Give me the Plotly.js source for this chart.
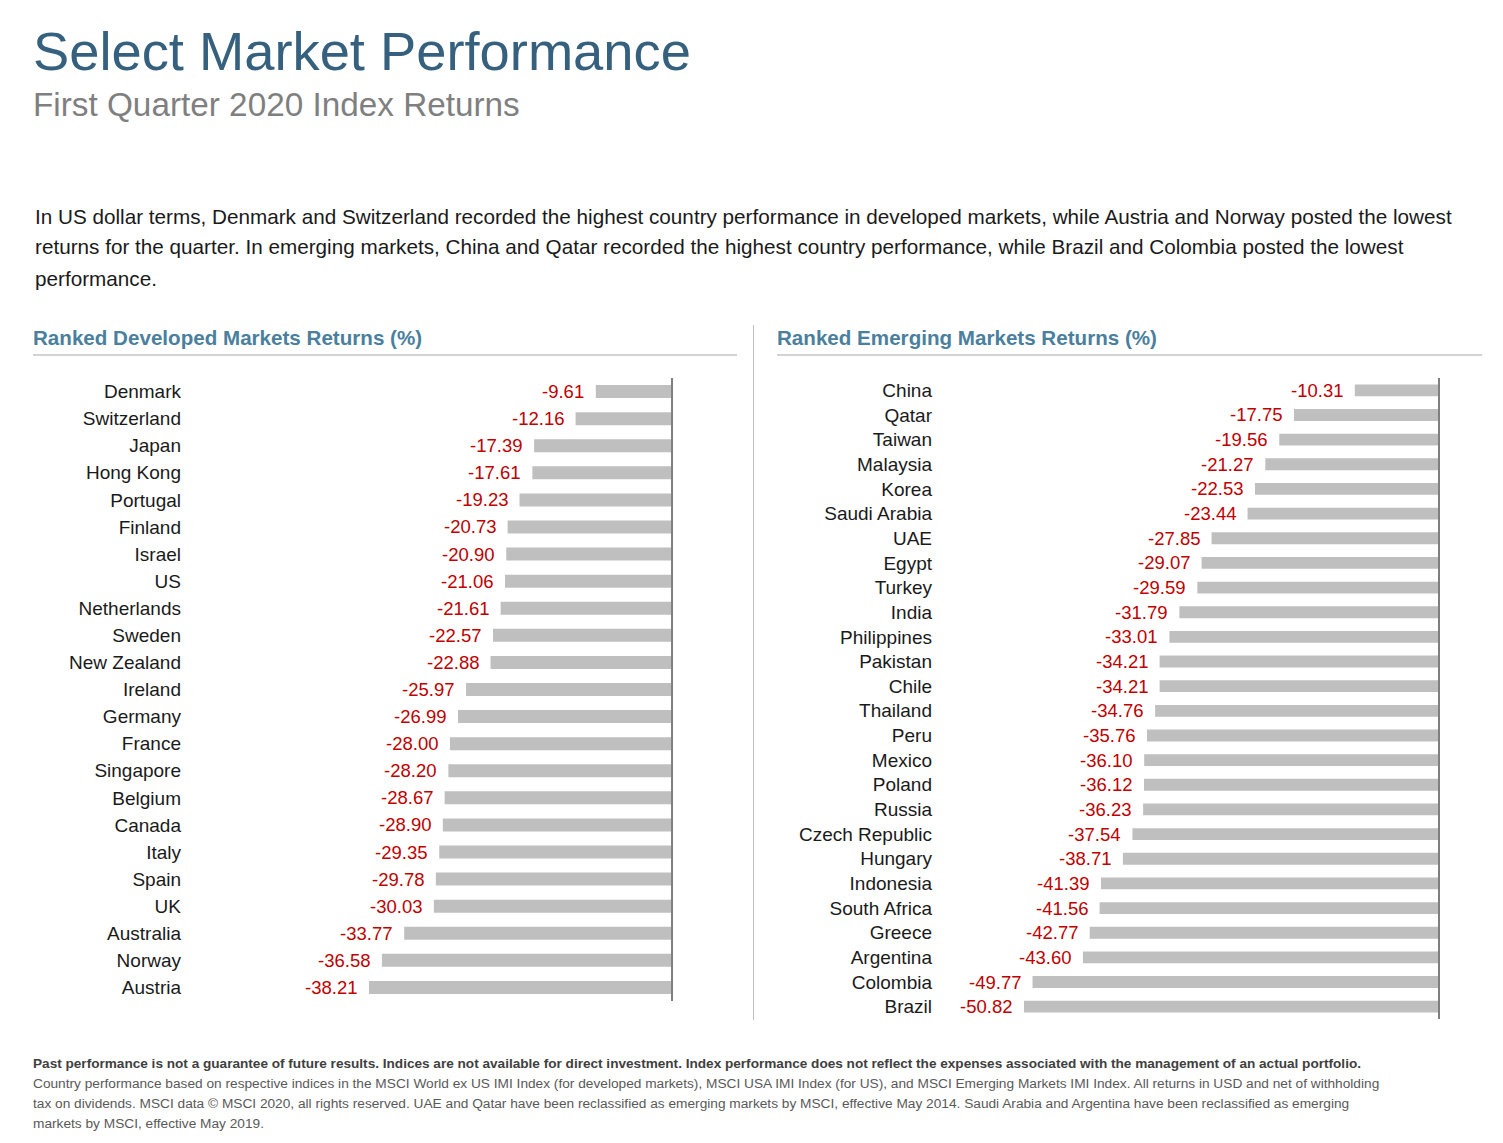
<!DOCTYPE html>
<html>
<head>
<meta charset="utf-8">
<script src="https://cdn.plot.ly/plotly-3.0.1.min.js"></script>
<style>html,body{margin:0;padding:0;background:#fff;}#chart{width:1503px;height:1143px;}</style>
</head>
<body>
<div id="chart"></div>
<script>
const devCountries = ["Denmark","Switzerland","Japan","Hong Kong","Portugal","Finland","Israel","US","Netherlands","Sweden","New Zealand","Ireland","Germany","France","Singapore","Belgium","Canada","Italy","Spain","UK","Australia","Norway","Austria"];
const devReturns = [-9.61,-12.16,-17.39,-17.61,-19.23,-20.73,-20.90,-21.06,-21.61,-22.57,-22.88,-25.97,-26.99,-28.00,-28.20,-28.67,-28.90,-29.35,-29.78,-30.03,-33.77,-36.58,-38.21];
const emCountries = ["China","Qatar","Taiwan","Malaysia","Korea","Saudi Arabia","UAE","Egypt","Turkey","India","Philippines","Pakistan","Chile","Thailand","Peru","Mexico","Poland","Russia","Czech Republic","Hungary","Indonesia","South Africa","Greece","Argentina","Colombia","Brazil"];
const emReturns = [-10.31,-17.75,-19.56,-21.27,-22.53,-23.44,-27.85,-29.07,-29.59,-31.79,-33.01,-34.21,-34.21,-34.76,-35.76,-36.10,-36.12,-36.23,-37.54,-38.71,-41.39,-41.56,-42.77,-43.60,-49.77,-50.82];

const W = 1503, H = 1143;
const X = p => p / W;
const Y = p => 1 - p / H;
const FONT = '"Liberation Sans", Arial, sans-serif';

const barColor = '#bfbfbf';
const valColor = '#c00000';

const traces = [
  {type:'bar', orientation:'h', x:devReturns, y:devCountries, xaxis:'x', yaxis:'y',
   marker:{color:barColor}, width:0.48, hoverinfo:'skip', showlegend:false},
  {type:'bar', orientation:'h', x:emReturns, y:emCountries, xaxis:'x2', yaxis:'y2',
   marker:{color:barColor}, width:0.48, hoverinfo:'skip', showlegend:false}
];

const annotations = [];
function txt(x, y, text, size, color, opts) {
  annotations.push(Object.assign({xref:'paper', yref:'paper', x:X(x), y:Y(y), text:text, showarrow:false,
    xanchor:'left', yanchor:'middle', font:{family:FONT, size:size, color:color}}, opts||{}));
}
txt(31, 52, 'Select Market Performance', 54.3, '#35617f');
txt(31, 105, 'First Quarter 2020 Index Returns', 33.3, '#7f7f7f');
txt(33, 216, 'In US dollar terms, Denmark and Switzerland recorded the highest country performance in developed markets, while Austria and Norway posted the lowest', 20.7, '#1a1a1a');
txt(33, 247, 'returns for the quarter. In emerging markets, China and Qatar recorded the highest country performance, while Brazil and Colombia posted the lowest', 20.7, '#1a1a1a');
txt(33, 278, 'performance.', 20.7, '#1a1a1a');
txt(31, 337, '<b>Ranked Developed Markets Returns (%)</b>', 20.6, '#4a7f9e');
txt(775, 337, '<b>Ranked Emerging Markets Returns (%)</b>', 20.6, '#4a7f9e');

const fnBold = 'Past performance is not a guarantee of future results. Indices are not available for direct investment. Index performance does not reflect the expenses associated with the management of an actual portfolio.';
const fnLines = [
  'Country performance based on respective indices in the MSCI World ex US IMI Index (for developed markets), MSCI USA IMI Index (for US), and MSCI Emerging Markets IMI Index. All returns in USD and net of withholding',
  'tax on dividends. MSCI data © MSCI 2020, all rights reserved. UAE and Qatar have been reclassified as emerging markets by MSCI, effective May 2014. Saudi Arabia and Argentina have been reclassified as emerging',
  'markets by MSCI, effective May 2019.'
];
annotations.push({xref:'paper', yref:'paper', x:X(31), y:Y(1063), text:'<b>'+fnBold+'</b>', showarrow:false,
  xanchor:'left', yanchor:'middle', font:{family:FONT, size:13.6, color:'#404040'}});
fnLines.forEach((t, i) => {
  annotations.push({xref:'paper', yref:'paper', x:X(31), y:Y(1083 + 20*i), text:t, showarrow:false,
    xanchor:'left', yanchor:'middle', font:{family:FONT, size:13.7, color:'#595959'}});
});

// value labels, positioned from data through the axes
devReturns.forEach((v, i) => {
  annotations.push({xref:'x', yref:'y', x:v, y:devCountries[i], text:v.toFixed(2), showarrow:false,
    xanchor:'right', yanchor:'middle', xshift:-10, font:{family:FONT, size:18.5, color:valColor}});
});
emReturns.forEach((v, i) => {
  annotations.push({xref:'x2', yref:'y2', x:v, y:emCountries[i], text:v.toFixed(2), showarrow:false,
    xanchor:'right', yanchor:'middle', xshift:-10, font:{family:FONT, size:18.5, color:valColor}});
});

const shapes = [
  {type:'line', xref:'x', yref:'y domain', x0:0, x1:0, y0:0, y1:1, line:{color:'#7f7f7f', width:2}},
  {type:'line', xref:'x2', yref:'y2 domain', x0:0, x1:0, y0:0, y1:1, line:{color:'#7f7f7f', width:2}},
  {type:'line', xref:'paper', yref:'paper', x0:X(33), x1:X(737), y0:Y(355), y1:Y(355), line:{color:'#a6a6a6', width:1}},
  {type:'line', xref:'paper', yref:'paper', x0:X(777), x1:X(1482), y0:Y(355), y1:Y(355), line:{color:'#a6a6a6', width:1}},
  {type:'line', xref:'paper', yref:'paper', x0:X(753.5), x1:X(753.5), y0:Y(325), y1:Y(1020), line:{color:'#bfbfbf', width:1}}
];

const axNoShow = {showgrid:false, zeroline:false, showticklabels:false, showline:false, ticks:'', fixedrange:true};
const yCommon = {type:'category', showgrid:false, zeroline:false, showline:false, ticks:'', fixedrange:true,
  tickfont:{family:FONT, size:19, color:'#1a1a1a'}, ticklabelstandoff:8};

const layout = {
  width:W, height:H, margin:{l:0, r:0, t:0, b:0},
  paper_bgcolor:'#ffffff', plot_bgcolor:'rgba(0,0,0,0)',
  font:{family:FONT},
  showlegend:false,
  xaxis:Object.assign({domain:[X(190), X(674)], range:[-60.78, 0.25], anchor:'y'}, axNoShow),
  yaxis:Object.assign({domain:[Y(1001), Y(378)], range:[22.5, -0.5], anchor:'x'}, yCommon),
  xaxis2:Object.assign({domain:[X(941), X(1441)], range:[-60.98, 0.245], anchor:'y2'}, axNoShow),
  yaxis2:Object.assign({domain:[Y(1019), Y(378)], range:[25.5, -0.5], anchor:'x2'}, yCommon),
  annotations:annotations,
  shapes:shapes
};

Plotly.newPlot('chart', traces, layout, {displayModeBar:false, staticPlot:true});
</script>
</body>
</html>
